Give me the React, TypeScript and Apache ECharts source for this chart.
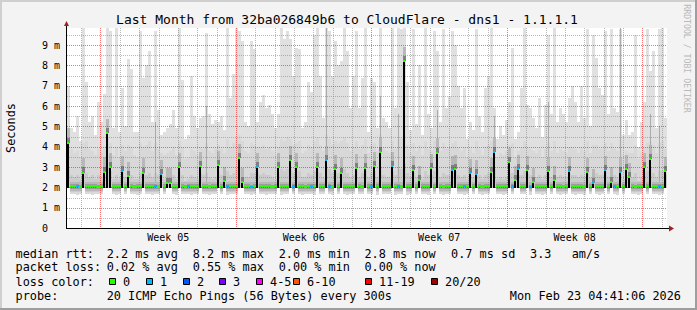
import React, { useEffect, useRef } from "react";
import * as echarts from "echarts";

const MONO = "'DejaVu Sans Mono', monospace";

const TITLE = "Last Month from 32ba026849b6 to CloudFlare - dns1 - 1.1.1.1";
const WATERMARK = "RRDTOOL / TOBI OETIKER";
const Y_NAME = "Seconds";

// x axis in days, 0 = start of "Week 05"
const X_MIN = -1.73;
const X_MAX = 29.27;
const Y_MAX = 9.84;
const Y_MAJOR = [1, 2, 3, 4, 5, 6, 7, 8, 9];
const Y_MINOR = [0.5, 1.5, 2.5, 3.5, 4.5, 5.5, 6.5, 7.5, 8.5, 9.5];
const DAY_LINES = [-1, 1, 2, 3, 4, 5, 6, 8, 9, 10, 11, 12, 13, 15, 16, 17, 18, 19, 20, 22, 23, 24, 25, 26, 27, 29];
const WEEK_LINES = [0, 7, 14, 21, 28];
const WEEK_LABELS = ["Week 05", "Week 06", "Week 07", "Week 08"];
const WEEK_LABEL_AT = [3.5, 10.5, 17.5, 24.5];

const SAMPLES = 200;
const SAMPLE_STEP = (X_MAX - X_MIN) / SAMPLES;

// median RTT (ms)
const median = [
  4.2, 2.05, 2.06, 2.05, 2.04, 2.73, 2.05, 2.05, 2.06, 2.05,
  2.04, 2.05, 2.77, 4.65, 2.98, 2.05, 2.06, 2.05, 2.82, 2.05,
  2.56, 2.05, 2.04, 2.05, 2.05, 2.72, 2.05, 2.06, 2.05, 2.05,
  2.04, 2.67, 2.05, 2.23, 2.23, 2.05, 2.05, 2.98, 2.05, 2.04,
  2.05, 2.05, 2.06, 2.05, 3.04, 2.05, 2.05, 2.04, 2.05, 2.05,
  3.08, 2.05, 2.29, 2.05, 2.06, 2.05, 2.05, 3.42, 2.26, 2.05,
  2.05, 2.04, 2.05, 2.98, 2.05, 2.05, 2.06, 2.05, 2.04, 2.05,
  2.98, 2.05, 2.05, 2.06, 3.34, 2.05, 3.0, 2.05, 2.05, 2.04,
  2.05, 2.05, 2.06, 2.98, 2.05, 2.05, 3.33, 2.05, 2.04, 2.88,
  2.05, 2.72, 2.05, 2.06, 2.05, 2.05, 2.95, 2.05, 2.04, 2.94,
  2.05, 2.05, 3.04, 2.05, 3.72, 2.05, 2.06, 2.05, 3.04, 2.05,
  2.05, 2.04, 8.22, 2.05, 2.05, 2.86, 2.05, 2.36, 2.05, 2.06,
  2.05, 2.94, 2.05, 3.71, 2.05, 2.04, 2.05, 2.05, 2.83, 2.9,
  2.05, 2.06, 2.05, 2.05, 2.7, 2.05, 2.66, 2.05, 2.04, 2.05,
  2.05, 2.75, 3.72, 2.05, 2.06, 2.05, 2.05, 3.23, 2.05, 2.36,
  2.9, 2.05, 2.05, 2.85, 2.04, 2.26, 2.05, 2.05, 2.06, 2.05,
  2.8, 2.05, 2.36, 2.05, 2.05, 2.04, 2.05, 2.8, 2.05, 2.06,
  2.05, 2.05, 2.04, 2.75, 2.05, 2.2, 2.05, 2.05, 2.06, 2.85,
  2.05, 2.28, 2.05, 2.05, 2.75, 2.05, 2.9, 2.5, 2.05, 2.04,
  2.05, 2.05, 2.99, 2.05, 3.4, 2.05, 2.06, 2.05, 2.05, 2.8,
];

// lost pings out of 20
const loss = [
  0, 0, 0, 1, 0, 0, 0, 0, 0, 0,
  0, 0, 0, 0, 0, 0, 0, 0, 1, 0,
  0, 0, 0, 0, 0, 0, 0, 0, 0, 1,
  0, 1, 0, 0, 0, 0, 0, 0, 0, 0,
  1, 0, 0, 0, 0, 0, 0, 0, 0, 0,
  0, 0, 0, 1, 0, 0, 0, 0, 0, 0,
  0, 1, 0, 1, 0, 0, 0, 0, 0, 0,
  0, 0, 0, 0, 0, 1, 0, 0, 0, 0,
  0, 1, 0, 0, 0, 0, 1, 1, 0, 0,
  0, 0, 0, 0, 0, 0, 0, 0, 0, 0,
  0, 1, 0, 0, 0, 0, 0, 0, 1, 0,
  1, 0, 0, 0, 0, 0, 0, 0, 0, 0,
  0, 0, 0, 0, 0, 0, 0, 0, 1, 0,
  0, 0, 1, 0, 1, 0, 1, 0, 0, 0,
  0, 0, 1, 0, 0, 0, 0, 0, 1, 0,
  1, 0, 0, 0, 1, 0, 0, 0, 0, 0,
  0, 0, 0, 0, 0, 0, 0, 1, 0, 0,
  0, 0, 0, 0, 0, 1, 0, 0, 0, 1,
  0, 0, 1, 0, 1, 0, 0, 0, 0, 0,
  0, 0, 0, 0, 0, 0, 0, 1, 0, 0,
];

// fastest ping (bottom of smoke)
const smokeLo = [
  1.97, 1.66, 1.65, 1.64, 1.66, 1.97, 1.65, 1.66, 1.64, 1.65,
  1.66, 1.65, 1.97, 1.97, 1.97, 1.65, 1.64, 1.66, 1.97, 1.65,
  1.97, 1.66, 1.65, 1.64, 1.65, 1.97, 1.66, 1.65, 1.64, 1.66,
  1.65, 1.97, 1.66, 1.97, 1.97, 1.65, 1.64, 1.97, 1.65, 1.66,
  1.65, 1.64, 1.66, 1.65, 1.97, 1.65, 1.66, 1.64, 1.65, 1.66,
  1.97, 1.65, 1.97, 1.64, 1.66, 1.65, 1.65, 1.97, 1.97, 1.66,
  1.65, 1.64, 1.66, 1.97, 1.65, 1.66, 1.64, 1.65, 1.66, 1.65,
  1.97, 1.64, 1.66, 1.65, 1.97, 1.65, 1.97, 1.66, 1.64, 1.65,
  1.66, 1.65, 1.64, 1.97, 1.65, 1.66, 1.97, 1.65, 1.64, 1.97,
  1.66, 1.97, 1.65, 1.64, 1.66, 1.65, 1.97, 1.66, 1.65, 1.97,
  1.65, 1.66, 1.97, 1.64, 1.97, 1.65, 1.66, 1.65, 1.97, 1.64,
  1.66, 1.65, 1.97, 1.64, 1.66, 1.97, 1.65, 1.97, 1.66, 1.65,
  1.64, 1.97, 1.66, 1.97, 1.65, 1.64, 1.66, 1.65, 1.97, 1.97,
  1.65, 1.66, 1.64, 1.65, 1.97, 1.66, 1.97, 1.65, 1.64, 1.66,
  1.65, 1.97, 1.97, 1.66, 1.65, 1.64, 1.66, 1.97, 1.65, 1.97,
  1.97, 1.66, 1.65, 1.97, 1.64, 1.97, 1.66, 1.65, 1.64, 1.66,
  1.97, 1.65, 1.97, 1.66, 1.64, 1.65, 1.66, 1.97, 1.65, 1.64,
  1.66, 1.65, 1.64, 1.97, 1.66, 1.97, 1.65, 1.64, 1.66, 1.97,
  1.65, 1.97, 1.66, 1.64, 1.97, 1.65, 1.97, 1.97, 1.66, 1.65,
  1.64, 1.66, 1.97, 1.65, 1.97, 1.66, 1.65, 1.64, 1.66, 1.97,
];

// slowest ping (top of smoke)
const smokeHi = [
  7.0, 4.9, 4.7, 5.5, 4.3, 9.84, 7.2, 5.2, 5.5, 4.6,
  6.2, 5.2, 6.6, 9.84, 9.7, 4.9, 9.84, 4.7, 6.9, 5.0,
  8.3, 7.8, 4.7, 4.7, 9.7, 7.4, 8.0, 8.7, 5.2, 9.7,
  5.8, 4.6, 4.7, 4.9, 5.1, 5.8, 4.9, 9.84, 7.3, 4.4,
  4.6, 7.5, 5.5, 4.9, 5.4, 5.5, 9.6, 5.6, 5.1, 5.3,
  5.2, 5.5, 4.8, 9.84, 6.4, 7.6, 9.84, 9.67, 9.2, 5.2,
  5.0, 9.2, 8.8, 5.2, 6.2, 6.55, 5.9, 6.05, 5.6, 4.9,
  5.6, 9.84, 9.3, 9.67, 9.3, 7.5, 8.85, 8.8, 4.9, 5.2,
  7.2, 6.7, 9.5, 9.84, 7.5, 5.4, 9.84, 9.67, 7.5, 9.2,
  8.0, 8.2, 9.84, 8.7, 5.9, 7.5, 9.67, 5.9, 7.4, 9.84,
  4.7, 7.4, 7.2, 4.9, 9.84, 5.4, 5.2, 4.9, 9.84, 5.9,
  9.84, 9.8, 9.84, 7.2, 4.8, 9.8, 5.1, 8.0, 4.6, 9.84,
  5.6, 4.9, 9.67, 8.7, 5.2, 9.8, 5.9, 6.5, 9.67, 9.0,
  7.0, 5.9, 6.9, 4.4, 5.2, 4.8, 9.8, 5.5, 4.7, 6.9,
  7.5, 9.84, 5.9, 4.4, 5.0, 4.6, 5.3, 6.2, 8.85, 4.4,
  4.7, 6.9, 9.84, 6.05, 5.9, 5.4, 4.9, 6.4, 4.5, 6.05,
  9.5, 5.6, 9.84, 5.2, 5.9, 5.6, 5.2, 6.4, 7.0, 6.2,
  5.2, 7.0, 5.4, 9.8, 5.0, 9.5, 8.35, 6.9, 6.55, 9.67,
  5.6, 9.8, 5.9, 5.7, 9.8, 4.6, 5.3, 4.6, 4.7, 9.5,
  4.0, 5.2, 6.2, 9.8, 7.7, 8.7, 4.9, 9.8, 9.84, 5.4,
];

// upper band of the smoke
const smokeMid2 = [
  4.4, 3.9, 3.7, 3.8, 3.5, 4.2, 4.3, 3.9, 3.8, 3.6,
  3.9, 3.7, 4.0, 4.5, 4.2, 3.6, 4.0, 3.5, 4.1, 3.8,
  4.1, 4.0, 3.6, 3.5, 4.2, 4.0, 4.1, 4.3, 3.8, 4.2,
  3.9, 3.7, 3.6, 3.7, 3.8, 4.0, 3.6, 4.3, 4.0, 3.4,
  3.5, 3.9, 3.8, 3.6, 4.0, 3.9, 4.2, 3.8, 3.7, 3.9,
  4.1, 3.9, 3.7, 4.4, 4.0, 4.2, 4.5, 4.6, 4.3, 3.8,
  3.7, 4.2, 4.1, 4.0, 4.0, 4.1, 3.9, 4.0, 3.8, 3.6,
  4.0, 4.4, 4.3, 4.5, 4.4, 4.1, 4.2, 4.3, 3.7, 3.8,
  4.1, 4.0, 4.3, 4.5, 4.1, 3.8, 4.6, 4.4, 4.1, 4.3,
  4.2, 4.3, 4.5, 4.2, 3.8, 4.0, 4.3, 3.9, 4.1, 4.4,
  3.7, 4.1, 4.2, 3.8, 4.6, 3.9, 3.8, 3.7, 4.3, 3.9,
  4.4, 4.5, 4.8, 4.1, 3.7, 4.2, 3.8, 4.1, 3.6, 4.3,
  3.9, 3.8, 4.3, 4.4, 3.8, 4.2, 3.9, 4.0, 4.2, 4.3,
  4.0, 3.8, 4.0, 3.5, 3.9, 3.7, 4.3, 3.9, 3.6, 4.0,
  4.1, 4.3, 4.2, 3.5, 3.7, 3.6, 3.8, 4.1, 4.2, 3.5,
  3.8, 4.0, 4.3, 4.0, 3.9, 3.8, 3.7, 3.9, 3.5, 3.9,
  4.2, 3.8, 4.3, 3.7, 3.9, 3.8, 3.7, 4.0, 4.0, 3.9,
  3.7, 4.0, 3.8, 4.3, 3.7, 4.1, 4.1, 3.9, 3.9, 4.2,
  3.8, 4.2, 3.9, 3.8, 4.4, 3.6, 3.8, 3.7, 3.7, 4.1,
  3.4, 3.7, 4.0, 4.2, 4.3, 4.1, 3.7, 4.2, 4.3, 3.9,
];

// denser inner band of the smoke
const smokeMid1 = [
  2.9, 2.6, 2.5, 2.6, 2.4, 2.8, 2.7, 2.5, 2.6, 2.4,
  2.6, 2.5, 2.8, 3.0, 2.8, 2.4, 2.6, 2.4, 2.8, 2.5,
  2.7, 2.6, 2.4, 2.4, 2.7, 2.7, 2.6, 2.7, 2.5, 2.7,
  2.6, 2.6, 2.4, 2.5, 2.5, 2.6, 2.4, 2.8, 2.6, 2.3,
  2.4, 2.6, 2.5, 2.4, 2.7, 2.6, 2.7, 2.5, 2.4, 2.5,
  2.8, 2.6, 2.5, 2.8, 2.6, 2.7, 2.9, 3.0, 2.8, 2.5,
  2.5, 2.7, 2.7, 2.7, 2.6, 2.7, 2.6, 2.6, 2.5, 2.4,
  2.7, 2.9, 2.8, 2.9, 2.9, 2.7, 2.8, 2.8, 2.5, 2.5,
  2.7, 2.6, 2.8, 2.9, 2.7, 2.5, 3.0, 2.9, 2.7, 2.8,
  2.7, 2.8, 2.9, 2.7, 2.5, 2.6, 2.8, 2.5, 2.7, 2.9,
  2.5, 2.7, 2.8, 2.5, 3.0, 2.6, 2.5, 2.5, 2.8, 2.6,
  2.9, 2.9, 3.2, 2.7, 2.5, 2.8, 2.5, 2.7, 2.4, 2.8,
  2.6, 2.6, 2.8, 2.9, 2.5, 2.7, 2.6, 2.6, 2.8, 2.8,
  2.6, 2.5, 2.6, 2.4, 2.6, 2.5, 2.8, 2.6, 2.4, 2.6,
  2.7, 2.8, 2.9, 2.4, 2.5, 2.4, 2.5, 2.7, 2.7, 2.4,
  2.6, 2.6, 2.8, 2.7, 2.6, 2.5, 2.5, 2.6, 2.4, 2.6,
  2.7, 2.5, 2.7, 2.5, 2.6, 2.5, 2.5, 2.7, 2.6, 2.6,
  2.5, 2.6, 2.5, 2.8, 2.5, 2.6, 2.7, 2.6, 2.6, 2.8,
  2.5, 2.7, 2.6, 2.5, 2.9, 2.4, 2.6, 2.5, 2.5, 2.7,
  2.3, 2.5, 2.7, 2.8, 2.9, 2.7, 2.5, 2.8, 2.8, 2.6,
];

// columns with a darker streak of slow pings: [sample index, top of streak (ms)]
const darkStreaks = [
  [29, 5.2], [46, 6.0], [86, 9.84], [104, 6.5], [110, 5.6], [123, 5.8],
  [142, 5.5], [160, 6.2], [184, 9.84], [194, 5.6], [197, 5.0],
];

const LOSS_LABELS = ["0", "1", "2", "3", "4-5", "6-10", "11-19", "20/20"];
const LOSS_COLORS = ["#26ff00", "#00b8ff", "#0059ff", "#7e00ff", "#ff00ff", "#ff5500", "#ff0000", "#a00000"];

const RTT_LABEL = "median rtt:";
const RTT_STATS = ["2.2 ms avg", "8.2 ms max", "2.0 ms min", "2.8 ms now", "0.7 ms sd"];
const RTT_AM = ["3.3", "am/s"];
const LOSS_LABEL = "packet loss:";
const LOSS_STATS = ["0.02 % avg", "0.55 % max", "0.00 % min", "0.00 % now"];
const LOSS_COLOR_LABEL = "loss color:";
const PROBE_LABEL = "probe:";
const PROBE_TEXT = "20 ICMP Echo Pings (56 Bytes) every 300s";
const DATE_TEXT = "Mon Feb 23 04:41:06 2026";

const SPIKE_MIN = 2.15;

function lossBucket(n: number) {
  if (n <= 3) return n;
  if (n <= 5) return 4;
  if (n <= 10) return 5;
  if (n < 20) return 6;
  return 7;
}

const streakTop: Record<number, number> = {};
darkStreaks.forEach(([i, v]) => {
  streakTop[i] = v;
});

const SMOKE_DATA = median.map((m, i) => [
  X_MIN + i * SAMPLE_STEP,
  X_MIN + (i + 1) * SAMPLE_STEP,
  smokeLo[i],
  smokeHi[i],
  smokeMid1[i],
  smokeMid2[i],
  m,
  loss[i],
  streakTop[i] || 0,
]);

const GRID_DATA: number[][] = [
  ...DAY_LINES.map((d) => [0, d, 0]),
  ...Y_MINOR.map((v) => [2, v, 0]),
  ...Y_MAJOR.map((v) => [3, v, 0]),
  ...WEEK_LINES.map((d) => [1, d, 0]),
  [4, 0, 0],
  ...WEEK_LABEL_AT.map((d, i) => [5, d, i]),
];

function txt(text: string, x: number, y: number, size: number, extra: any = {}) {
  return {
    type: "text",
    x,
    y,
    silent: true,
    style: {
      text,
      fontFamily: MONO,
      fontSize: size,
      fill: extra.fill || "#000",
      align: extra.align || "left",
      textAlign: extra.align || "left",
      verticalAlign: "middle",
      textVerticalAlign: "middle",
    },
    ...(extra.rotation !== undefined ? { rotation: extra.rotation } : {}),
  };
}

const RED_GRID = "rgba(255,0,0,0.56)";
const GRAY_GRID = "rgba(128,128,128,0.55)";

export default function App() {
  const ref = useRef<HTMLDivElement>(null);

  useEffect(() => {
    if (!ref.current) return;
    const chart = echarts.init(ref.current, null, { renderer: "svg", width: 697, height: 310 });

    const renderSmoke = (params: any, api: any) => {
      const t0 = api.value(0);
      const t1 = api.value(1);
      const lo = api.value(2);
      const hi = api.value(3);
      const m1 = api.value(4);
      const m2 = api.value(5);
      const med = api.value(6);
      const streak = api.value(8);
      const x0 = Math.round(api.coord([t0, 0])[0]);
      const x1 = Math.round(api.coord([t1, 0])[0]);
      const w = x1 - x0;
      const Y = (v: number) => api.coord([t0, Math.min(v, Y_MAX)])[1];
      const band = (a: number, b: number, fill: string, bx = x0, bw = w) => {
        const ya = Math.round(Y(b));
        const yb = Math.round(Y(a));
        return { type: "rect", shape: { x: bx, y: ya, width: bw, height: Math.max(0, yb - ya) }, style: { fill } };
      };
      const children: any[] = [band(lo, hi, "#e0e0e0"), band(lo, m2, "#d8d8d8"), band(lo, m1, "#cbcbcb")];
      if (streak > 0) children.push(band(med, streak, "#ababab", x0 + 1, 1));
      if (med > SPIKE_MIN) {
        children.push(band(med, med + 0.7, "#b8b8b8"));
        children.push(band(med, med + 0.25, "#808080"));
      } else {
        children.push(band(lo, lo + 0.12, "#dadada"));
        children.push(band(med - 0.22, med + 0.2, "#b8b8b8"));
        children.push(band(med - 0.12, med + 0.1, "#9c9c9c"));
      }
      return { type: "group", children };
    };

    const renderMedian = (params: any, api: any) => {
      const t0 = api.value(0);
      const t1 = api.value(1);
      const lo = api.value(2);
      const med = api.value(6);
      const ls = api.value(7);
      const x0 = Math.round(api.coord([t0, 0])[0]);
      const x1 = Math.round(api.coord([t1, 0])[0]);
      const color = LOSS_COLORS[lossBucket(ls)];
      const ym = Math.round(api.coord([t0, med])[1]);
      if (med > SPIKE_MIN) {
        const yb = Math.round(api.coord([t0, lo])[1]);
        return {
          type: "group",
          children: [
            { type: "rect", shape: { x: x0, y: ym, width: 2, height: yb - ym }, style: { fill: "#000" } },
            { type: "rect", shape: { x: x0, y: ym - 1, width: 2, height: 2 }, style: { fill: color } },
          ],
        };
      }
      return { type: "rect", shape: { x: x0, y: ym - 1, width: x1 - x0, height: 2 }, style: { fill: color } };
    };

    const renderGrid = (params: any, api: any) => {
      const kind = api.value(0);
      const v = api.value(1);
      const cs = params.coordSys;
      const left = cs.x;
      const top = cs.y;
      const right = cs.x + cs.width;
      const bottom = cs.y + cs.height;
      if (kind === 0 || kind === 1) {
        const x = Math.round(api.coord([v, 0])[0]) + 0.5;
        return {
          type: "line",
          shape: { x1: x, y1: top, x2: x, y2: bottom },
          style: { stroke: kind === 1 ? RED_GRID : GRAY_GRID, lineWidth: 1, lineDash: [1, 1] },
        };
      }
      if (kind === 2 || kind === 3) {
        const y = Math.round(api.coord([X_MIN, v])[1]) + 0.5;
        return {
          type: "line",
          shape: { x1: left, y1: y, x2: right, y2: y },
          style: { stroke: kind === 3 ? RED_GRID : GRAY_GRID, lineWidth: 1, lineDash: [1, 1] },
        };
      }
      if (kind === 4) {
        const ax = left - 1;
        const ay = bottom;
        return {
          type: "group",
          children: [
            { type: "rect", shape: { x: ax, y: top - 2, width: 1, height: ay - top + 3 }, style: { fill: "#000" } },
            { type: "rect", shape: { x: ax, y: ay, width: right - ax + 3, height: 1 }, style: { fill: "#000" } },
            {
              type: "polygon",
              shape: { points: [[ax - 2, top - 2], [ax + 3, top - 2], [ax + 0.5, top - 7]] },
              style: { fill: "#a02020" },
            },
            {
              type: "polygon",
              shape: { points: [[right + 2, ay - 2.5], [right + 2, ay + 3.5], [right + 7, ay + 0.5]] },
              style: { fill: "#a02020" },
            },
          ],
        };
      }
      const x = api.coord([v, 0])[0];
      return {
        type: "text",
        x,
        y: bottom + 9.5,
        style: {
          text: WEEK_LABELS[api.value(2)],
          fontFamily: MONO,
          fontSize: 10,
          fill: "#000",
          align: "center",
          verticalAlign: "middle",
        },
      };
    };

    const STAT_X = [106.7, 192.7, 278.7, 364.4, 451.1];
    const SWATCH_X = [109.5, 146.5, 183.5, 219.5, 256.5, 293.5, 365.5, 431.5];
    const L1 = 253.5;
    const L2 = 267.3;
    const L3 = 281.8;
    const L4 = 295.5;
    const F = 11.85;

    const graphics: any[] = [
      { type: "rect", shape: { x: 0, y: 0, width: 697, height: 2 }, style: { fill: "#cfcfcf" }, silent: true },
      { type: "rect", shape: { x: 0, y: 0, width: 2, height: 310 }, style: { fill: "#cfcfcf" }, silent: true },
      { type: "rect", shape: { x: 0, y: 308, width: 697, height: 2 }, style: { fill: "#9e9e9e" }, silent: true },
      { type: "rect", shape: { x: 695, y: 0, width: 2, height: 310 }, style: { fill: "#9e9e9e" }, silent: true },
      txt(TITLE, 347, 19.5, 13, { align: "center" }),
      txt(WATERMARK, 687, 58.5, 8.2, { align: "center", fill: "#b9b9b9", rotation: -Math.PI / 2 }),
      txt(Y_NAME, 11, 128, F, { align: "center", rotation: Math.PI / 2 }),
      txt(RTT_LABEL, 15.5, L1, F),
      ...RTT_STATS.map((s, i) => txt(s, STAT_X[i], L1, F)),
      txt(RTT_AM[0], 530.1, L1, F),
      txt(RTT_AM[1], 571.7, L1, F),
      txt(LOSS_LABEL, 15.5, L2, F),
      ...LOSS_STATS.map((s, i) => txt(s, STAT_X[i], L2, F)),
      txt(LOSS_COLOR_LABEL, 15.5, L3, F),
      ...LOSS_LABELS.map((s, i) => txt(s, SWATCH_X[i] + 13.6, L3, F)),
      ...LOSS_COLORS.map((c, i) => ({
        type: "rect",
        shape: { x: SWATCH_X[i], y: 278.5, width: 6, height: 6 },
        style: { fill: c, stroke: "#000", lineWidth: 1 },
        silent: true,
      })),
      txt(PROBE_LABEL, 15.5, L4, F),
      txt(PROBE_TEXT, 106.7, L4, F),
      txt(DATE_TEXT, 681, L4, F, { align: "right" }),
    ];

    chart.setOption({
      animation: false,
      backgroundColor: "#f3f3f3",
      grid: { left: 67, top: 28, width: 600, height: 200, show: true, backgroundColor: "#ffffff", borderWidth: 0 },
      xAxis: {
        type: "value",
        min: X_MIN,
        max: X_MAX,
        axisLine: { show: false },
        axisTick: { show: false },
        axisLabel: { show: false },
        splitLine: { show: false },
      },
      yAxis: {
        type: "value",
        min: 0,
        max: Y_MAX,
        interval: 1,
        axisLine: { show: false },
        axisTick: { show: false },
        splitLine: { show: false },
        axisLabel: {
          showMaxLabel: false,
          margin: 7,
          fontFamily: MONO,
          fontSize: 10,
          color: "#000",
          formatter: (v: number) => (Math.abs(v - Math.round(v)) > 1e-6 ? "" : v === 0 ? "0\u00a0\u00a0" : `${v} m`),
        },
      },
      graphic: graphics,
      series: [
        { type: "custom", name: "smoke", data: SMOKE_DATA, renderItem: renderSmoke, z: 1, silent: true },
        { type: "custom", name: "grid", data: GRID_DATA, renderItem: renderGrid, z: 2, silent: true },
        { type: "custom", name: "median", data: SMOKE_DATA, renderItem: renderMedian, z: 4, silent: true },
      ],
    });

    return () => chart.dispose();
  }, []);

  return <div ref={ref} style={{ position: "fixed", left: 0, top: 0, width: 697, height: 310 }} />;
}
